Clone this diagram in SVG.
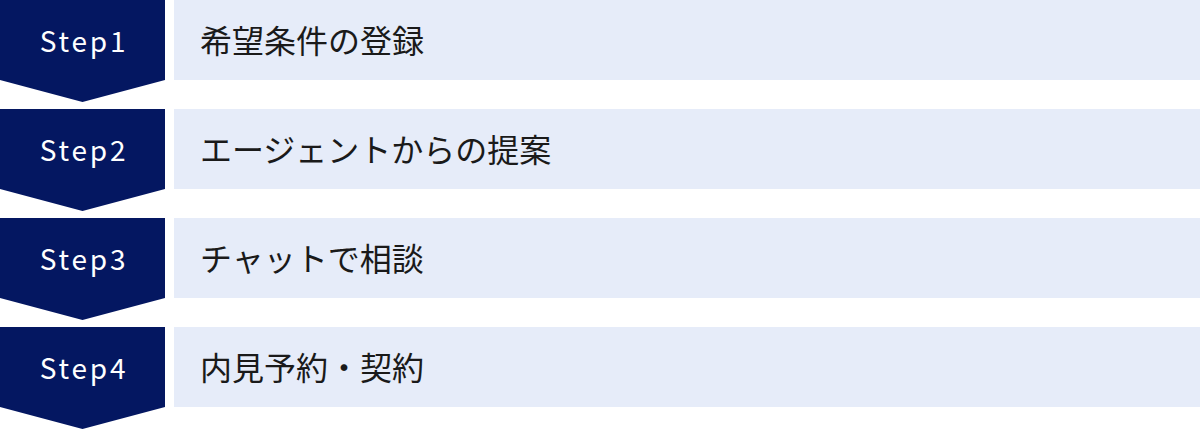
<svg xmlns="http://www.w3.org/2000/svg" width="1200" height="429" viewBox="0 0 1200 429">
<defs>
<style>
.step{fill:#041761;}
.bar{fill:#E6ECF9;}
.lbl{font-family:"Noto Sans CJK JP","Noto Sans",sans-serif;font-size:28px;letter-spacing:2.8px;fill:#ffffff;text-anchor:middle;}
.txt{font-family:"Noto Sans CJK JP","Noto Sans",sans-serif;font-size:32px;fill:#1a1a1a;}
</style>
<polygon id="chev" class="step" points="0,0 165,0 165,80 82.5,102 0,80"/>
</defs>
<rect width="1200" height="429" fill="#ffffff"/>
<g id="step1">
<use href="#chev"/>
<rect class="bar" x="174" y="0" width="1026" height="80"/>
<text class="lbl" x="84" y="52">Step1</text>
<text class="txt" x="200" y="53">希望条件の登録</text>
</g>
<g id="step2" transform="translate(0,109)">
<use href="#chev"/>
<rect class="bar" x="174" y="0" width="1026" height="80"/>
<text class="lbl" x="84" y="52">Step2</text>
<text class="txt" x="200" y="53">エージェントからの提案</text>
</g>
<g id="step3" transform="translate(0,218)">
<use href="#chev"/>
<rect class="bar" x="174" y="0" width="1026" height="80"/>
<text class="lbl" x="84" y="52">Step3</text>
<text class="txt" x="200" y="53">チャットで相談</text>
</g>
<g id="step4" transform="translate(0,327)">
<use href="#chev"/>
<rect class="bar" x="174" y="0" width="1026" height="80"/>
<text class="lbl" x="84" y="52">Step4</text>
<text class="txt" x="200" y="53">内見予約・契約</text>
</g>
<g id="connectors"></g>
</svg>
